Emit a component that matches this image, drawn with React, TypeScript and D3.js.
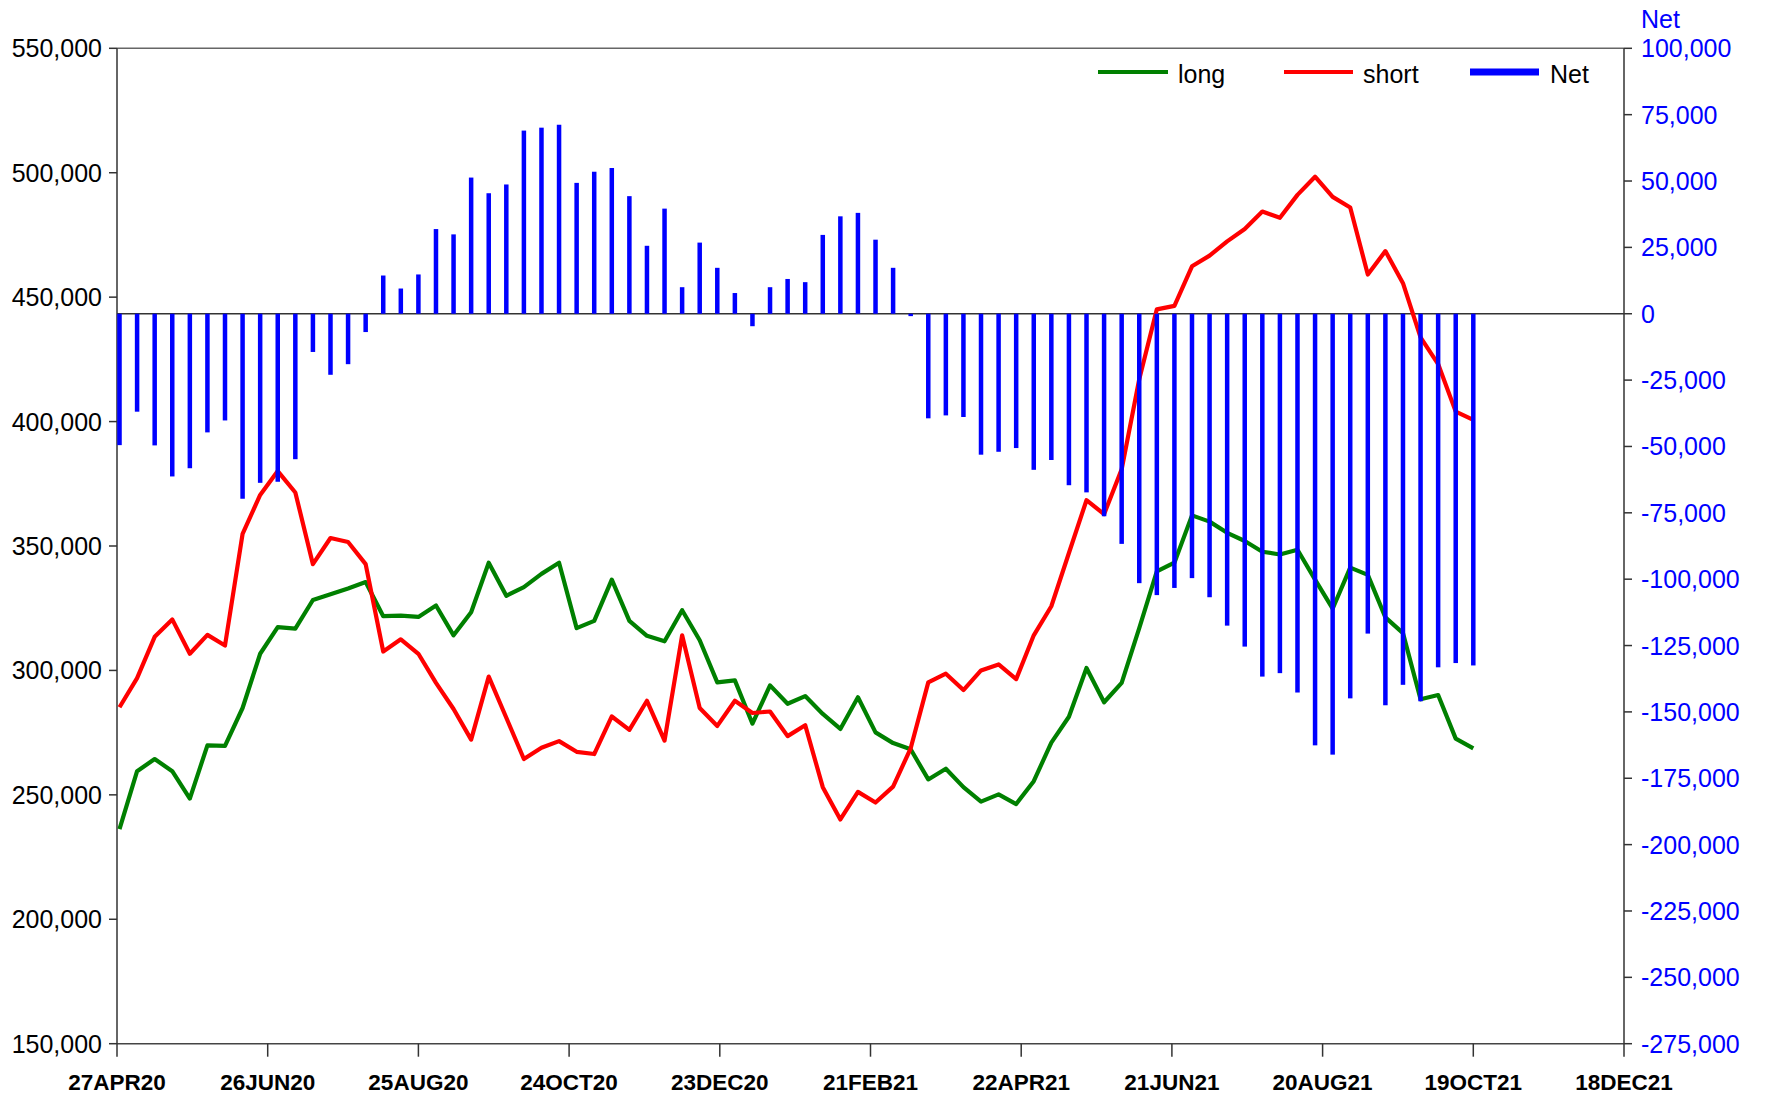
import React from "react";
import * as d3 from "d3";

// weekly report dates (Tuesdays) 28APR20 .. 19OCT21
const startDate = "2020-04-28";
const endDate = "2021-10-19";

// values in thousands of contracts
const longVals = [
  236.2, 259.5, 264.4, 259.5, 248.5, 269.9, 269.7, 284.9, 306.7, 317.4, 316.8,
  328.3, 330.6, 332.9, 335.5, 321.8, 322.0, 321.5, 326.1, 314.1, 323.4,
  343.3, 330.0, 333.5, 338.8, 343.3, 317.0, 319.9, 336.5, 319.9, 313.9, 311.7,
  324.2, 312.1, 295.2, 296.0, 278.6, 294.0, 286.6, 289.7, 282.5, 276.5,
  289.2, 275.1, 270.8, 268.3, 256.2, 260.5, 253.1, 247.3, 250.2, 246.3, 255.5,
  271.0, 281.4, 301.0, 287.2, 295.0, 317.0, 339.8, 343.3, 362.3, 359.8,
  355.3, 352.0, 347.7, 346.6, 348.5, 336.5, 324.8, 341.3, 338.4, 321.3, 315.0,
  288.4, 290.1, 272.6, 268.7,
];

const shortVals = [
  285.2, 296.9, 313.5, 320.5, 306.7, 314.3, 310.0, 354.9, 370.5, 380.1, 371.5,
  342.7, 353.2, 351.6, 342.7, 307.6, 312.5, 306.7, 295.0, 284.5, 272.2,
  297.5, 281.0, 264.4, 268.9, 271.6, 267.3, 266.4, 281.5, 276.1, 287.8, 271.8,
  314.1, 284.9, 277.7, 287.8, 282.9, 283.5, 273.6, 278.0, 253.1, 240.1,
  251.2, 246.9, 253.3, 268.7, 295.2, 298.7, 292.1, 300.0, 302.4, 296.5, 314.1,
  325.8, 347.2, 368.4, 362.8, 380.8, 417.0, 445.1, 446.5, 462.4, 466.7,
  472.4, 477.4, 484.4, 481.9, 491.1, 498.4, 490.3, 486.0, 459.1, 468.5, 455.6,
  433.8, 423.1, 404.0, 400.7,
];

const netVals = [
  -49.5, -36.9, -49.6, -61.3, -58.2, -44.7, -40.2, -69.7, -63.7, -63.3, -54.8,
  -14.4, -23.0, -19.0, -6.9, 14.4, 9.5, 14.8, 31.9, 29.9, 51.3,
  45.4, 48.7, 69.0, 70.1, 71.2, 49.3, 53.5, 54.9, 44.3, 25.6, 39.6,
  10.0, 26.8, 17.3, 7.8, -4.7, 10.0, 13.1, 11.9, 29.7, 36.7,
  38.0, 27.9, 17.3, -0.9, -39.4, -38.3, -38.9, -53.1, -52.0, -50.6, -58.8,
  -55.1, -64.6, -67.3, -76.3, -86.7, -101.5, -106.0, -103.3, -99.6, -106.8,
  -117.5, -125.4, -136.7, -135.4, -142.7, -162.6, -166.1, -144.9, -120.5,
  -147.5, -139.8, -146.0, -133.2, -131.6, -132.5,
];

const xTickLabels = [
  "27APR20", "26JUN20", "25AUG20", "24OCT20", "23DEC20", "21FEB21",
  "22APR21", "21JUN21", "20AUG21", "19OCT21", "18DEC21",
];
const leftTicks = [150000, 200000, 250000, 300000, 350000, 400000, 450000, 500000, 550000];
const rightTicks = [
  -275000, -250000, -225000, -200000, -175000, -150000, -125000, -100000,
  -75000, -50000, -25000, 0, 25000, 50000, 75000, 100000,
];

const W = 1767;
const H = 1097;
const L = 117;
const R = 1624;
const T = 48.3;
const B = 1043.7;
const FONT = "'Liberation Sans', Arial, Helvetica, sans-serif";

const parseTick = d3.utcParse("%d%b%y");
const parseISO = d3.utcParse("%Y-%m-%d");

export default function App() {
  const dates = d3.utcTuesday.range(
    parseISO(startDate) as Date,
    d3.utcDay.offset(parseISO(endDate) as Date, 1)
  );
  const tickDates = xTickLabels.map((s) => {
    const t = s.slice(0, 3) + s.slice(3, 5).toLowerCase() + s.slice(5);
    return parseTick(t) as Date;
  });

  const x = d3
    .scaleUtc()
    .domain([tickDates[0], tickDates[tickDates.length - 1]])
    .range([L, R]);
  const yL = d3.scaleLinear().domain([150000, 550000]).range([B, T]);
  const yR = d3.scaleLinear().domain([-275000, 100000]).range([B, T]);
  const fmt = (v: number) => d3.format(",")(v).replace("\u2212", "-");

  const lineL = d3
    .line<number>()
    .x((_, i) => x(dates[i]))
    .y((v) => yL(v * 1000));

  const barW = 4.5;

  return (
    <svg
      width={W}
      height={H}
      style={{ position: "absolute", left: 0, top: 0, background: "#fff" }}
      fontFamily={FONT}
    >
      <rect x={0} y={0} width={W} height={H} fill="#fff" />
      {/* frame */}
      <line x1={L} x2={R} y1={T} y2={T} stroke="#666" strokeWidth={1.5} />
      <line x1={L} x2={R} y1={B} y2={B} stroke="#444" strokeWidth={1.5} />
      <line x1={L} x2={L} y1={T} y2={B} stroke="#333" strokeWidth={1.5} />
      <line x1={R} x2={R} y1={T} y2={B} stroke="#333" strokeWidth={1.5} />
      {/* zero line */}
      <line x1={L} x2={R} y1={yR(0)} y2={yR(0)} stroke="#333" strokeWidth={1.5} />

      {/* left axis */}
      {leftTicks.map((t) => (
        <g key={"l" + t}>
          <line x1={L - 8} x2={L} y1={yL(t)} y2={yL(t)} stroke="#333" strokeWidth={1.5} />
          <text x={102} y={yL(t)} dy="0.36em" textAnchor="end" fontSize={25} fill="#000">
            {fmt(t)}
          </text>
        </g>
      ))}

      {/* right axis */}
      {rightTicks.map((t) => (
        <g key={"r" + t}>
          <line x1={R} x2={R + 8} y1={yR(t)} y2={yR(t)} stroke="#333" strokeWidth={1.5} />
          <text x={1641} y={yR(t)} dy="0.36em" textAnchor="start" fontSize={25} fill="#0000ff">
            {fmt(t)}
          </text>
        </g>
      ))}
      <text x={1641} y={27.5} fontSize={25} fill="#0000ff">
        Net
      </text>

      {/* x axis */}
      {tickDates.map((d, i) => (
        <g key={"x" + i}>
          <line x1={x(d)} x2={x(d)} y1={B} y2={B + 13} stroke="#333" strokeWidth={1.5} />
          <text x={x(d)} y={1090} textAnchor="middle" fontSize={22.5} fontWeight="bold" fill="#000">
            {xTickLabels[i]}
          </text>
        </g>
      ))}

      {/* lines */}
      <path d={lineL(longVals) || ""} fill="none" stroke="#008000" strokeWidth={4.2} strokeLinejoin="round" />
      <path d={lineL(shortVals) || ""} fill="none" stroke="#ff0000" strokeWidth={4.2} strokeLinejoin="round" />

      {/* net bars */}
      {netVals.map((v, i) => {
        const y0 = yR(Math.max(0, v * 1000));
        const y1 = yR(Math.min(0, v * 1000));
        return (
          <rect
            key={"b" + i}
            x={x(dates[i]) - barW / 2}
            y={y0}
            width={barW}
            height={Math.max(1, y1 - y0)}
            fill="#0000ff"
          />
        );
      })}

      {/* legend */}
      <line x1={1098} x2={1168} y1={72} y2={72} stroke="#008000" strokeWidth={4} />
      <text x={1178} y={83} fontSize={25} fill="#000">long</text>
      <line x1={1284} x2={1353} y1={72} y2={72} stroke="#ff0000" strokeWidth={4} />
      <text x={1363} y={83} fontSize={25} fill="#000">short</text>
      <line x1={1470} x2={1539} y1={72} y2={72} stroke="#0000ff" strokeWidth={7} />
      <text x={1550} y={83} fontSize={25} fill="#000">Net</text>
    </svg>
  );
}
